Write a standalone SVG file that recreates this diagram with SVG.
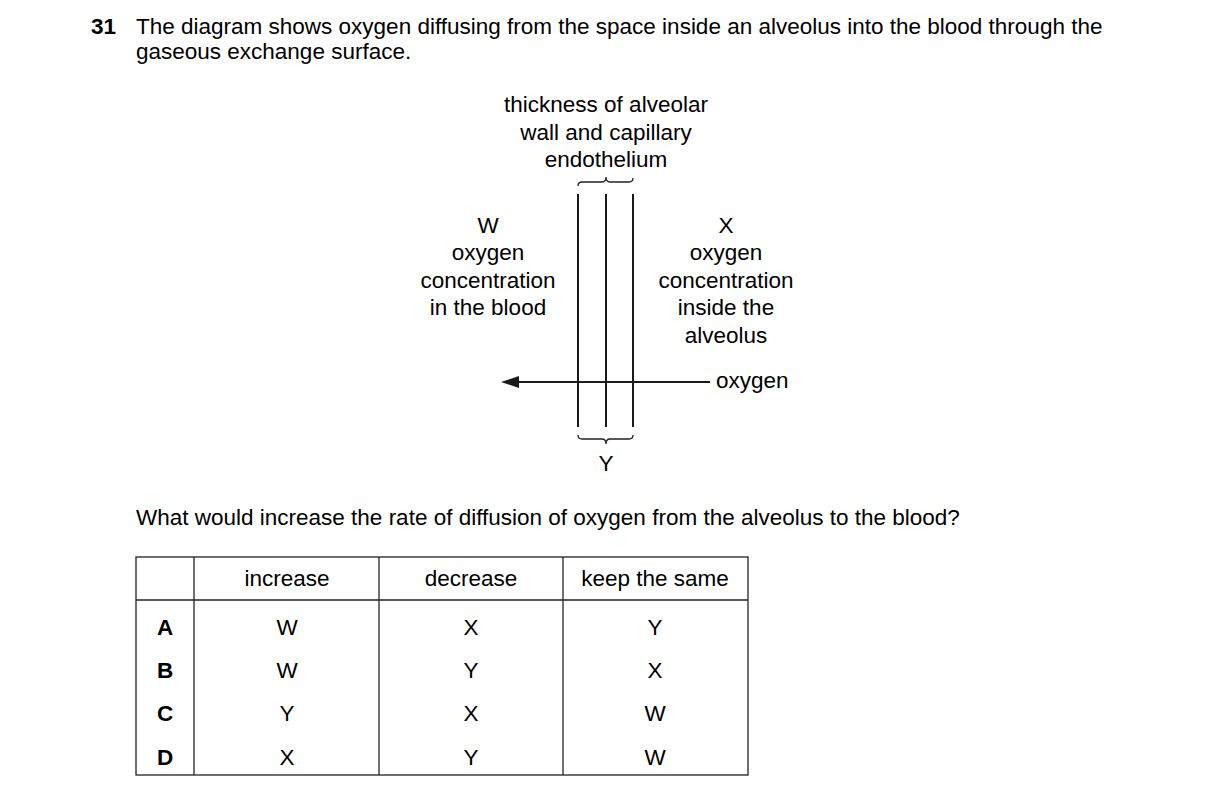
<svg xmlns="http://www.w3.org/2000/svg" width="1216" height="800" viewBox="0 0 1216 800">
<style>
text{font-family:"Liberation Sans",Arial,sans-serif;font-size:22.5px;fill:#000}
.c{text-anchor:middle}
.b{font-weight:bold}
.l{stroke:#1a1a1a;stroke-width:2;fill:none}
.t{stroke:#222;stroke-width:1.3;fill:none}
</style>
<rect width="1216" height="800" fill="#fff"/>
<text x="91" y="34" class="b">31</text>
<text x="136" y="34">The diagram shows oxygen diffusing from the space inside an alveolus into the blood through the</text>
<text x="136" y="59">gaseous exchange surface.</text>
<g id="labels">
<text x="606" y="112" class="c">thickness of alveolar</text>
<text x="606" y="140" class="c">wall and capillary</text>
<text x="606" y="167" class="c">endothelium</text>
<text x="488" y="233" class="c">W</text>
<text x="488" y="260" class="c">oxygen</text>
<text x="488" y="288" class="c">concentration</text>
<text x="488" y="315" class="c">in the blood</text>
<text x="726" y="233" class="c">X</text>
<text x="726" y="260" class="c">oxygen</text>
<text x="726" y="288" class="c">concentration</text>
<text x="726" y="315" class="c">inside the</text>
<text x="726" y="343" class="c">alveolus</text>
<text x="716" y="388">oxygen</text>
<text x="606" y="471" class="c">Y</text>
</g>
<g id="wall">
<line x1="578" y1="194" x2="578" y2="427" class="l"/>
<line x1="606" y1="194" x2="606" y2="427" class="l"/>
<line x1="633" y1="194" x2="633" y2="427" class="l"/>
<path class="t" d="M578,186 q0,-4 4,-4 h20 q4,0 4,-5 q0,5 4,5 h19 q4,0 4,-4" transform="translate(0,0)"/>
<path class="t" d="M578,435 q0,4 4,4 h20 q4,0 4,5 q0,-5 4,-5 h19 q4,0 4,-4"/>
</g>
<g id="connectors">
<line x1="710" y1="382" x2="515" y2="382" class="l"/>
<polygon points="501,382 519,376 519,388" fill="#1a1a1a"/>
</g>
<text x="136" y="525">What would increase the rate of diffusion of oxygen from the alveolus to the blood?</text>
<g id="table">
<rect x="136" y="557" width="612" height="218" class="t"/>
<line x1="136" y1="600" x2="748" y2="600" class="t"/>
<line x1="194" y1="557" x2="194" y2="775" class="t"/>
<line x1="379" y1="557" x2="379" y2="775" class="t"/>
<line x1="563" y1="557" x2="563" y2="775" class="t"/>
<text x="287" y="586" class="c">increase</text>
<text x="471" y="586" class="c">decrease</text>
<text x="655" y="586" class="c">keep the same</text>
<text x="165" y="635" class="c b">A</text><text x="287" y="635" class="c">W</text><text x="471" y="635" class="c">X</text><text x="655" y="635" class="c">Y</text>
<text x="165" y="678" class="c b">B</text><text x="287" y="678" class="c">W</text><text x="471" y="678" class="c">Y</text><text x="655" y="678" class="c">X</text>
<text x="165" y="721" class="c b">C</text><text x="287" y="721" class="c">Y</text><text x="471" y="721" class="c">X</text><text x="655" y="721" class="c">W</text>
<text x="165" y="765" class="c b">D</text><text x="287" y="765" class="c">X</text><text x="471" y="765" class="c">Y</text><text x="655" y="765" class="c">W</text>
</g>
</svg>
